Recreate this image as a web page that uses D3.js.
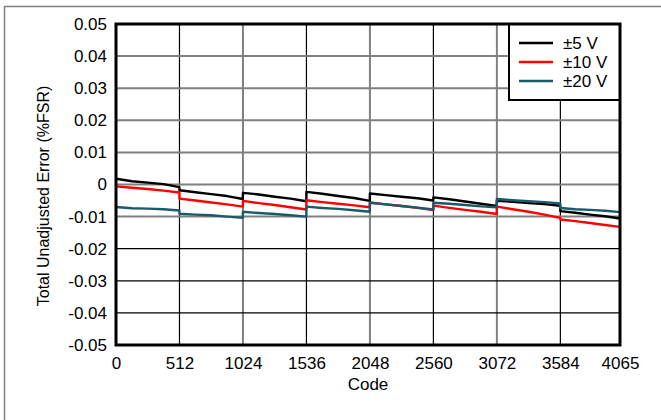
<!DOCTYPE html>
<html>
<head>
<meta charset="utf-8">
<script src="https://cdn.jsdelivr.net/npm/d3@7"></script>
<style>
  html, body { margin: 0; padding: 0; background: #fff; }
  svg { display: block; }
  text { font-family: "Liberation Sans", Arial, sans-serif; fill: #000; }
</style>
</head>
<body>
<svg id="chart" width="661" height="420"></svg>
<script>
// ---- data ----
const codes = [
  0, 128, 256, 384, 511,
  512, 640, 768, 896, 1023,
  1024, 1152, 1280, 1408, 1535,
  1536, 1664, 1792, 1920, 2047,
  2048, 2176, 2304, 2432, 2559,
  2560, 2688, 2816, 2944, 3071,
  3072, 3200, 3328, 3456, 3583,
  3584, 3704, 3824, 3944, 4065
];
const seriesNames = ["±5 V", "±10 V", "±20 V"];
const seriesColors = ["#000000", "#ff0000", "#1b5a6b"];
const v5 = [
  0.0018, 0.0010, 0.0006, 0.0001, -0.0008,
  -0.0018, -0.0024, -0.0030, -0.0036, -0.0045,
  -0.0026, -0.0031, -0.0038, -0.0044, -0.0052,
  -0.0023, -0.0029, -0.0036, -0.0042, -0.0051,
  -0.0028, -0.0033, -0.0038, -0.0043, -0.0050,
  -0.0040, -0.0046, -0.0053, -0.0060, -0.0067,
  -0.0051, -0.0054, -0.0058, -0.0061, -0.0066,
  -0.0083, -0.0088, -0.0094, -0.0099, -0.0106
];
const v10 = [
  -0.0006, -0.0010, -0.0014, -0.0019, -0.0025,
  -0.0044, -0.0050, -0.0056, -0.0062, -0.0069,
  -0.0051, -0.0058, -0.0064, -0.0071, -0.0078,
  -0.0049, -0.0055, -0.0060, -0.0065, -0.0071,
  -0.0056, -0.0062, -0.0067, -0.0073, -0.0080,
  -0.0066, -0.0073, -0.0079, -0.0085, -0.0092,
  -0.0069, -0.0077, -0.0085, -0.0094, -0.0104,
  -0.0109, -0.0114, -0.0120, -0.0126, -0.0132
];
const v20 = [
  -0.0070, -0.0074, -0.0075, -0.0077, -0.0081,
  -0.0091, -0.0094, -0.0096, -0.0100, -0.0104,
  -0.0085, -0.0089, -0.0092, -0.0096, -0.0100,
  -0.0069, -0.0073, -0.0076, -0.0080, -0.0085,
  -0.0057, -0.0062, -0.0067, -0.0072, -0.0078,
  -0.0057, -0.0060, -0.0064, -0.0068, -0.0071,
  -0.0045, -0.0049, -0.0052, -0.0055, -0.0059,
  -0.0073, -0.0077, -0.0079, -0.0082, -0.0086
];
const seriesValues = [v5, v10, v20];
const xTickValues = [0, 512, 1024, 1536, 2048, 2560, 3072, 3584, 4065];
const xTickLabels = ["0", "512", "1024", "1536", "2048", "2560", "3072", "3584", "4065"];
const yTickValues = [0.05, 0.04, 0.03, 0.02, 0.01, 0, -0.01, -0.02, -0.03, -0.04, -0.05];
const yTickLabels = ["0.05", "0.04", "0.03", "0.02", "0.01", "0", "-0.01", "-0.02", "-0.03", "-0.04", "-0.05"];
const xTitle = "Code";
const yTitle = "Total Unadjusted Error (%FSR)";

// ---- layout ----
const L = 116, R = 620, T = 24, B = 345;
const FS = "17px";
const svg = d3.select("#chart");

// outer frame (partially visible)
svg.append("rect").attr("x", 4.5).attr("y", 6.5).attr("width", 700).attr("height", 500)
  .attr("fill", "none").attr("stroke", "#808080").attr("stroke-width", 1.5);

const x = d3.scaleLinear().domain([0, 4065]).range([L, R]);
const y = d3.scaleLinear().domain([-0.05, 0.05]).range([B, T]);

// grid
const gridDarkX = [512, 1536, 2560, 3584];
xTickValues.slice(1, -1).forEach(v => {
  svg.append("line").attr("x1", x(v)).attr("x2", x(v)).attr("y1", T).attr("y2", B)
    .attr("stroke", gridDarkX.includes(v) ? "#000" : "#808080")
    .attr("stroke-width", gridDarkX.includes(v) ? 1.2 : 2);
});
yTickValues.slice(1, -1).forEach(v => {
  const dark = v < -0.015;
  svg.append("line").attr("x1", L).attr("x2", R).attr("y1", y(v)).attr("y2", y(v))
    .attr("stroke", dark ? "#000" : "#808080").attr("stroke-width", dark ? 1.2 : 2);
});

// axes (labels only)
const xAxis = d3.axisBottom(x).tickValues(xTickValues)
  .tickFormat((d, i) => xTickLabels[i]).tickSize(0).tickPadding(12);
const gx = svg.append("g").attr("transform", `translate(0,${B})`).call(xAxis);
gx.select(".domain").remove();
gx.selectAll("text").style("font-size", FS).style("font-family", "Liberation Sans, Arial, sans-serif");

const yAxis = d3.axisLeft(y).tickValues(yTickValues)
  .tickFormat((d, i) => yTickLabels[i]).tickSize(0).tickPadding(9);
const gy = svg.append("g").attr("transform", `translate(${L},0)`).call(yAxis);
gy.select(".domain").remove();
gy.selectAll("text").style("font-size", FS).style("font-family", "Liberation Sans, Arial, sans-serif");

// series lines
const line = d3.line().x((d, i) => x(codes[i])).y(d => y(d));
seriesValues.forEach((vals, k) => {
  svg.append("path").datum(vals).attr("d", line)
    .attr("fill", "none").attr("stroke", seriesColors[k]).attr("stroke-width", 2.4)
    .attr("stroke-linejoin", "round");
});

// legend
const lg = svg.append("g");
lg.append("rect").attr("x", 509).attr("y", T).attr("width", R - 509).attr("height", 76)
  .attr("fill", "#fff").attr("stroke", "#000").attr("stroke-width", 2);
seriesNames.forEach((n, k) => {
  const yy = 43 + k * 19;
  lg.append("line").attr("x1", 519).attr("x2", 553).attr("y1", yy).attr("y2", yy)
    .attr("stroke", seriesColors[k]).attr("stroke-width", 2.5);
  lg.append("text").attr("x", 563).attr("y", yy).attr("dy", "0.35em")
    .style("font-size", FS).text(n);
});

// plot frame
svg.append("rect").attr("x", L).attr("y", T).attr("width", R - L).attr("height", B - T)
  .attr("fill", "none").attr("stroke", "#000").attr("stroke-width", 3);

// titles
svg.append("text").attr("x", (L + R) / 2).attr("y", 384).attr("dy", "0.35em")
  .attr("text-anchor", "middle").style("font-size", FS).text(xTitle);
svg.append("text").attr("transform", "translate(43,196) rotate(-90)")
  .attr("text-anchor", "middle").attr("dy", "0.35em")
  .style("font-size", "16px").text(yTitle);
</script>
</body>
</html>
